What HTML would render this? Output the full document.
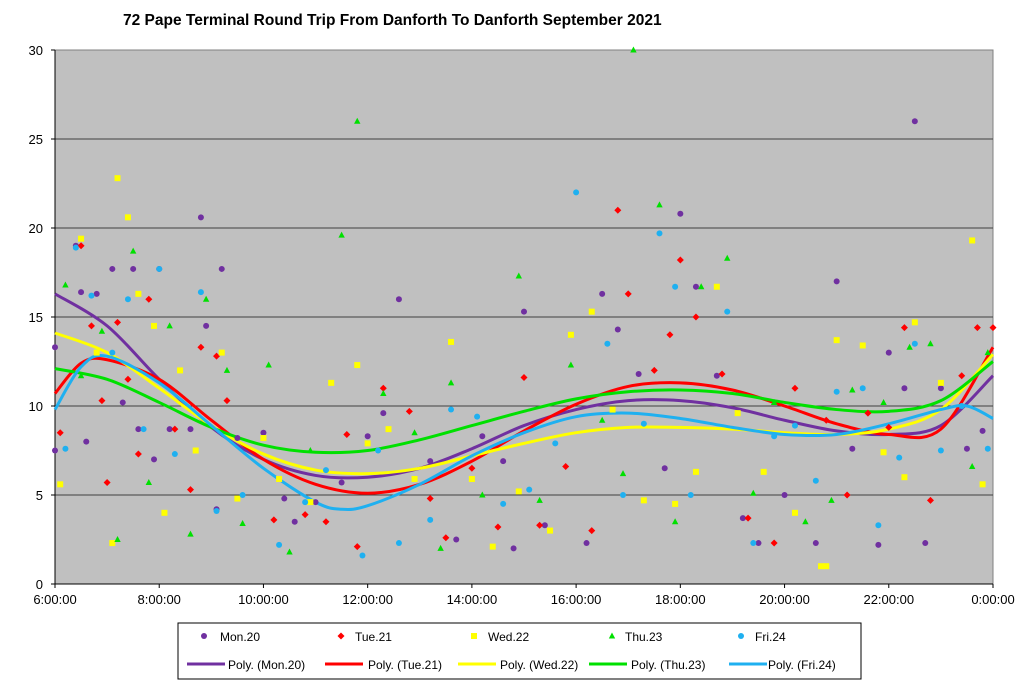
<!DOCTYPE html>
<html><head><meta charset="utf-8">
<style>
body{margin:0;background:#fff;width:1024px;height:689px;overflow:hidden;font-family:"Liberation Sans",sans-serif}
svg{display:block}
</style></head>
<body>
<svg id="chart" width="1024" height="689" xmlns="http://www.w3.org/2000/svg">
<text x="123" y="25" font-size="15.5" font-weight="bold" fill="#000">72 Pape Terminal Round Trip From Danforth To Danforth September 2021</text>
<rect x="55" y="50" width="938" height="534" fill="#c0c0c0" stroke="#808080"/>
<g id="grid"></g><g id="axes"></g><g id="trends"></g><g id="points"></g><g id="legend"></g>
</svg>
<script>
const yTicks=[0,5,10,15,20,25,30];
const xTickHours=[6,8,10,12,14,16,18,20,22,24];
const xTickLabels=["6:00:00","8:00:00","10:00:00","12:00:00","14:00:00","16:00:00","18:00:00","20:00:00","22:00:00","0:00:00"];
const seriesNames=["Mon.20","Tue.21","Wed.22","Thu.23","Fri.24"];
const monPts=[[6,13.3],[6,7.5],[6.4,19],[6.5,16.4],[6.6,8],[6.8,16.3],[7.1,17.7],[7.3,10.2],[7.5,17.7],[7.6,8.7],[7.9,7],[8,17.7],[8.2,8.7],[8.6,8.7],[8.8,20.6],[8.9,14.5],[9.2,17.7],[9.1,4.2],[9.5,8.2],[10,8.5],[10.4,4.8],[10.6,3.5],[11,4.6],[11.5,5.7],[12,8.3],[12.3,9.6],[12.6,16],[13.2,6.9],[13.7,2.5],[14.2,8.3],[14.6,6.9],[14.8,2],[15,15.3],[15.4,3.3],[16.2,2.3],[16.5,16.3],[16.8,14.3],[17.2,11.8],[17.7,6.5],[18,20.8],[18.3,16.7],[18.7,11.7],[19.2,3.7],[19.5,2.3],[20,5],[20.6,2.3],[21,17],[21.3,7.6],[21.8,2.2],[22,13],[22.3,11],[22.5,26],[22.7,2.3],[23,11],[23.5,7.6],[23.8,8.6]];
const tuePts=[[6.1,8.5],[6.5,19],[6.7,14.5],[6.9,10.3],[7,5.7],[7.2,14.7],[7.4,11.5],[7.6,7.3],[7.8,16],[8.3,8.7],[8.6,5.3],[8.8,13.3],[9.1,12.8],[9.3,10.3],[10.2,3.6],[10.8,3.9],[11.2,3.5],[11.6,8.4],[11.8,2.1],[12.3,11],[12.8,9.7],[13.2,4.8],[13.5,2.6],[14,6.5],[14.5,3.2],[15,11.6],[15.3,3.3],[15.8,6.6],[16.3,3],[16.8,21],[17,16.3],[17.5,12],[17.8,14],[18,18.2],[18.3,15],[18.8,11.8],[19.3,3.7],[19.8,2.3],[20.2,11],[20.8,9.2],[21.2,5],[21.6,9.6],[22,8.8],[22.3,14.4],[22.8,4.7],[23.4,11.7],[23.7,14.4],[24,14.4]];
const wedPts=[[6.1,5.6],[6.5,19.4],[6.8,13],[7.1,2.3],[7.2,22.8],[7.4,20.6],[7.6,16.3],[7.9,14.5],[8.1,4],[8.4,12],[8.7,7.5],[9.2,13],[9.5,4.8],[10,8.2],[10.3,5.9],[10.9,4.6],[11.3,11.3],[11.8,12.3],[12,7.9],[12.4,8.7],[12.9,5.9],[13.6,13.6],[14,5.9],[14.4,2.1],[14.9,5.2],[15.5,3],[15.9,14],[16.3,15.3],[16.7,9.8],[17.3,4.7],[17.9,4.5],[18.3,6.3],[18.7,16.7],[19.1,9.6],[19.6,6.3],[20.2,4],[20.7,1],[20.8,1],[21,13.7],[21.5,13.4],[21.9,7.4],[22.3,6],[22.5,14.7],[23,11.3],[23.6,19.3],[23.8,5.6]];
const thuPts=[[6.2,16.8],[6.5,11.7],[6.9,14.2],[7.2,2.5],[7.5,18.7],[7.8,5.7],[8.2,14.5],[8.6,2.8],[8.9,16],[9.3,12],[9.6,3.4],[10.1,12.3],[10.5,1.8],[10.9,7.5],[11.5,19.6],[11.8,26],[12.3,10.7],[12.9,8.5],[13.4,2],[13.6,11.3],[14.2,5],[14.9,17.3],[15.3,4.7],[15.9,12.3],[16.5,9.2],[16.9,6.2],[17.1,30],[17.6,21.3],[17.9,3.5],[18.4,16.7],[18.9,18.3],[19.4,5.1],[19.8,10.2],[20.4,3.5],[20.9,4.7],[21.3,10.9],[21.9,10.2],[22.4,13.3],[22.8,13.5],[23.6,6.6],[23.9,13]];
const friPts=[[6.2,7.6],[6.4,18.9],[6.7,16.2],[7.1,13],[7.4,16],[7.7,8.7],[8,17.7],[8.3,7.3],[8.8,16.4],[9.1,4.1],[9.6,5],[10.3,2.2],[10.8,4.6],[11.2,6.4],[11.9,1.6],[12.2,7.5],[12.6,2.3],[13.2,3.6],[13.6,9.8],[14.1,9.4],[14.6,4.5],[15.1,5.3],[15.6,7.9],[16,22],[16.6,13.5],[16.9,5],[17.3,9],[17.6,19.7],[17.9,16.7],[18.2,5],[18.9,15.3],[19.4,2.3],[19.8,8.3],[20.2,8.9],[20.6,5.8],[21,10.8],[21.5,11],[21.8,3.3],[22.2,7.1],[22.5,13.5],[23,7.5],[23.4,10],[23.9,7.6]];
const monTrend=[[6,16.3],[7,14.5],[8,11.5],[9,8.8],[10,7.0],[11,6.1],[12,6.0],[13,6.5],[14,7.6],[15,8.9],[16,9.8],[17,10.3],[18,10.3],[19,9.9],[20,9.2],[21,8.6],[22,8.4],[23,8.9],[24,11.7]];
const tueTrend=[[6,10.7],[6.5,12.4],[7,12.6],[8,11.5],[9,9.2],[10,7.0],[11,5.6],[12,5.1],[13,5.6],[14,6.9],[15,8.6],[16,10.1],[17,11.1],[18,11.3],[19,10.9],[20,10.0],[21,9.0],[22,8.4],[23,8.7],[24,13.3]];
const wedTrend=[[6,14.1],[7,13.0],[8,11.0],[9,8.9],[10,7.3],[11,6.4],[12,6.2],[13,6.5],[14,7.2],[15,7.9],[16,8.5],[17,8.8],[18,8.8],[19,8.7],[20,8.5],[21,8.4],[22,8.7],[23,9.8],[24,12.9]];
const thuTrend=[[6,12.1],[7,11.5],[8,10.2],[9,8.8],[10,7.8],[11,7.4],[12,7.5],[13,8.1],[14,8.9],[15,9.7],[16,10.4],[17,10.8],[18,10.9],[19,10.7],[20,10.2],[21,9.8],[22,9.7],[23,10.3],[24,12.5]];
const friTrend=[[6,9.8],[6.5,12.2],[7,12.8],[8,11.3],[9,8.9],[10,6.5],[11,4.6],[11.5,4.2],[12,4.4],[13,5.6],[14,7.2],[15,8.5],[16,9.4],[17,9.6],[18,9.3],[19,8.8],[20,8.4],[21,8.4],[22,9.0],[23,9.8],[23.5,10.0],[24,9.3]];

const NS="http://www.w3.org/2000/svg";
const X0=55,X1=993,Y0=584,Y1=50;
const xs=h=>X0+(h-6)/18*(X1-X0);
const ys=v=>Y0-v/30*(Y0-Y1);
function mk(tag,attrs,parent){const e=document.createElementNS(NS,tag);for(const k in attrs)e.setAttribute(k,attrs[k]);parent.appendChild(e);return e;}
const grid=document.getElementById('grid'),axes=document.getElementById('axes'),trends=document.getElementById('trends'),pts=document.getElementById('points'),leg=document.getElementById('legend');
yTicks.forEach(v=>{
  if(v>0&&v<30){const g=mk('line',{x1:X0,x2:X1,y1:ys(v),y2:ys(v),stroke:'#404040','stroke-width':1},grid);
  
  }
  const t=mk('text',{x:X0-12,y:ys(v)+5,'text-anchor':'end','font-size':13,fill:'#000'},axes);t.textContent=v;
  
  
  mk('line',{x1:X0-4,x2:X0,y1:ys(v),y2:ys(v),stroke:'#000'},axes);
});
xTickHours.forEach((h,i)=>{
  mk('line',{x1:xs(h),x2:xs(h),y1:Y0,y2:Y0+4,stroke:'#000'},axes);
  const t=mk('text',{x:xs(h),y:Y0+20,'text-anchor':'middle','font-size':13,fill:'#000'},axes);t.textContent=xTickLabels[i];
  
  
});
mk('line',{x1:X0,x2:X1,y1:Y0,y2:Y0,stroke:'#000'},axes);
mk('line',{x1:X0,x2:X0,y1:Y1,y2:Y0,stroke:'#000'},axes);
const colors=["#7030a0","#ff0000","#ffff00","#00e000","#1fb0f0"];
const shapes=["circle","diamond","square","triangle"," circle"];
function marker(shape,cx,cy,col,parent){
  shape=shape.trim();
  if(shape==='circle')return mk('circle',{cx,cy,r:3,fill:col},parent);
  if(shape==='diamond')return mk('path',{d:`M${cx},${cy-3.5}L${cx+3.5},${cy}L${cx},${cy+3.5}L${cx-3.5},${cy}Z`,fill:col},parent);
  if(shape==='square')return mk('rect',{x:cx-3,y:cy-3,width:6,height:6,fill:col},parent);
  return mk('path',{d:`M${cx},${cy-3.5}L${cx+3.2},${cy+2.5}L${cx-3.2},${cy+2.5}Z`,fill:col},parent);
}
const allPts=[monPts,tuePts,wedPts,thuPts,friPts];
const allTrends=[monTrend,tueTrend,wedTrend,thuTrend,friTrend];
function smooth(arr){
  const p=arr.map(d=>[xs(d[0]),ys(d[1])]);let d=`M${p[0][0]},${p[0][1]}`;
  for(let i=0;i<p.length-1;i++){const a=p[Math.max(0,i-1)],b=p[i],c=p[i+1],e=p[Math.min(p.length-1,i+2)];
    d+=`C${b[0]+(c[0]-a[0])/6},${b[1]+(c[1]-a[1])/6} ${c[0]-(e[0]-b[0])/6},${c[1]-(e[1]-b[1])/6} ${c[0]},${c[1]}`;}
  return d;
}
allPts.forEach((arr,s)=>{arr.forEach((d,i)=>{
  const m=marker(shapes[s],xs(d[0]),ys(d[1]),colors[s],pts);
  
  
});});
allTrends.forEach((arr,s)=>{
  const p=mk('path',{d:smooth(arr),fill:'none',stroke:colors[s],'stroke-width':3},trends);
  
  
});
const lb=mk('rect',{x:178,y:623,width:683,height:56,fill:'#fff',stroke:'#000'},leg);


const mX=[204,341,474,612,741],tX=[220,355,488,625,755];
const lX1=[187,325,458,589,729],tX2=[228,368,500,631,768];
seriesNames.forEach((n,s)=>{
  marker(shapes[s],mX[s],636,colors[s],leg);
  const t=mk('text',{x:tX[s],y:641,'font-size':12,fill:'#000'},leg);t.textContent=n;
  
  
  mk('line',{x1:lX1[s],x2:lX1[s]+38,y1:664,y2:664,stroke:colors[s],'stroke-width':3},leg);
  const t2=mk('text',{x:tX2[s],y:669,'font-size':12,fill:'#000'},leg);t2.textContent='Poly. ('+n+')';
  
  
});
</script>
</body></html>
